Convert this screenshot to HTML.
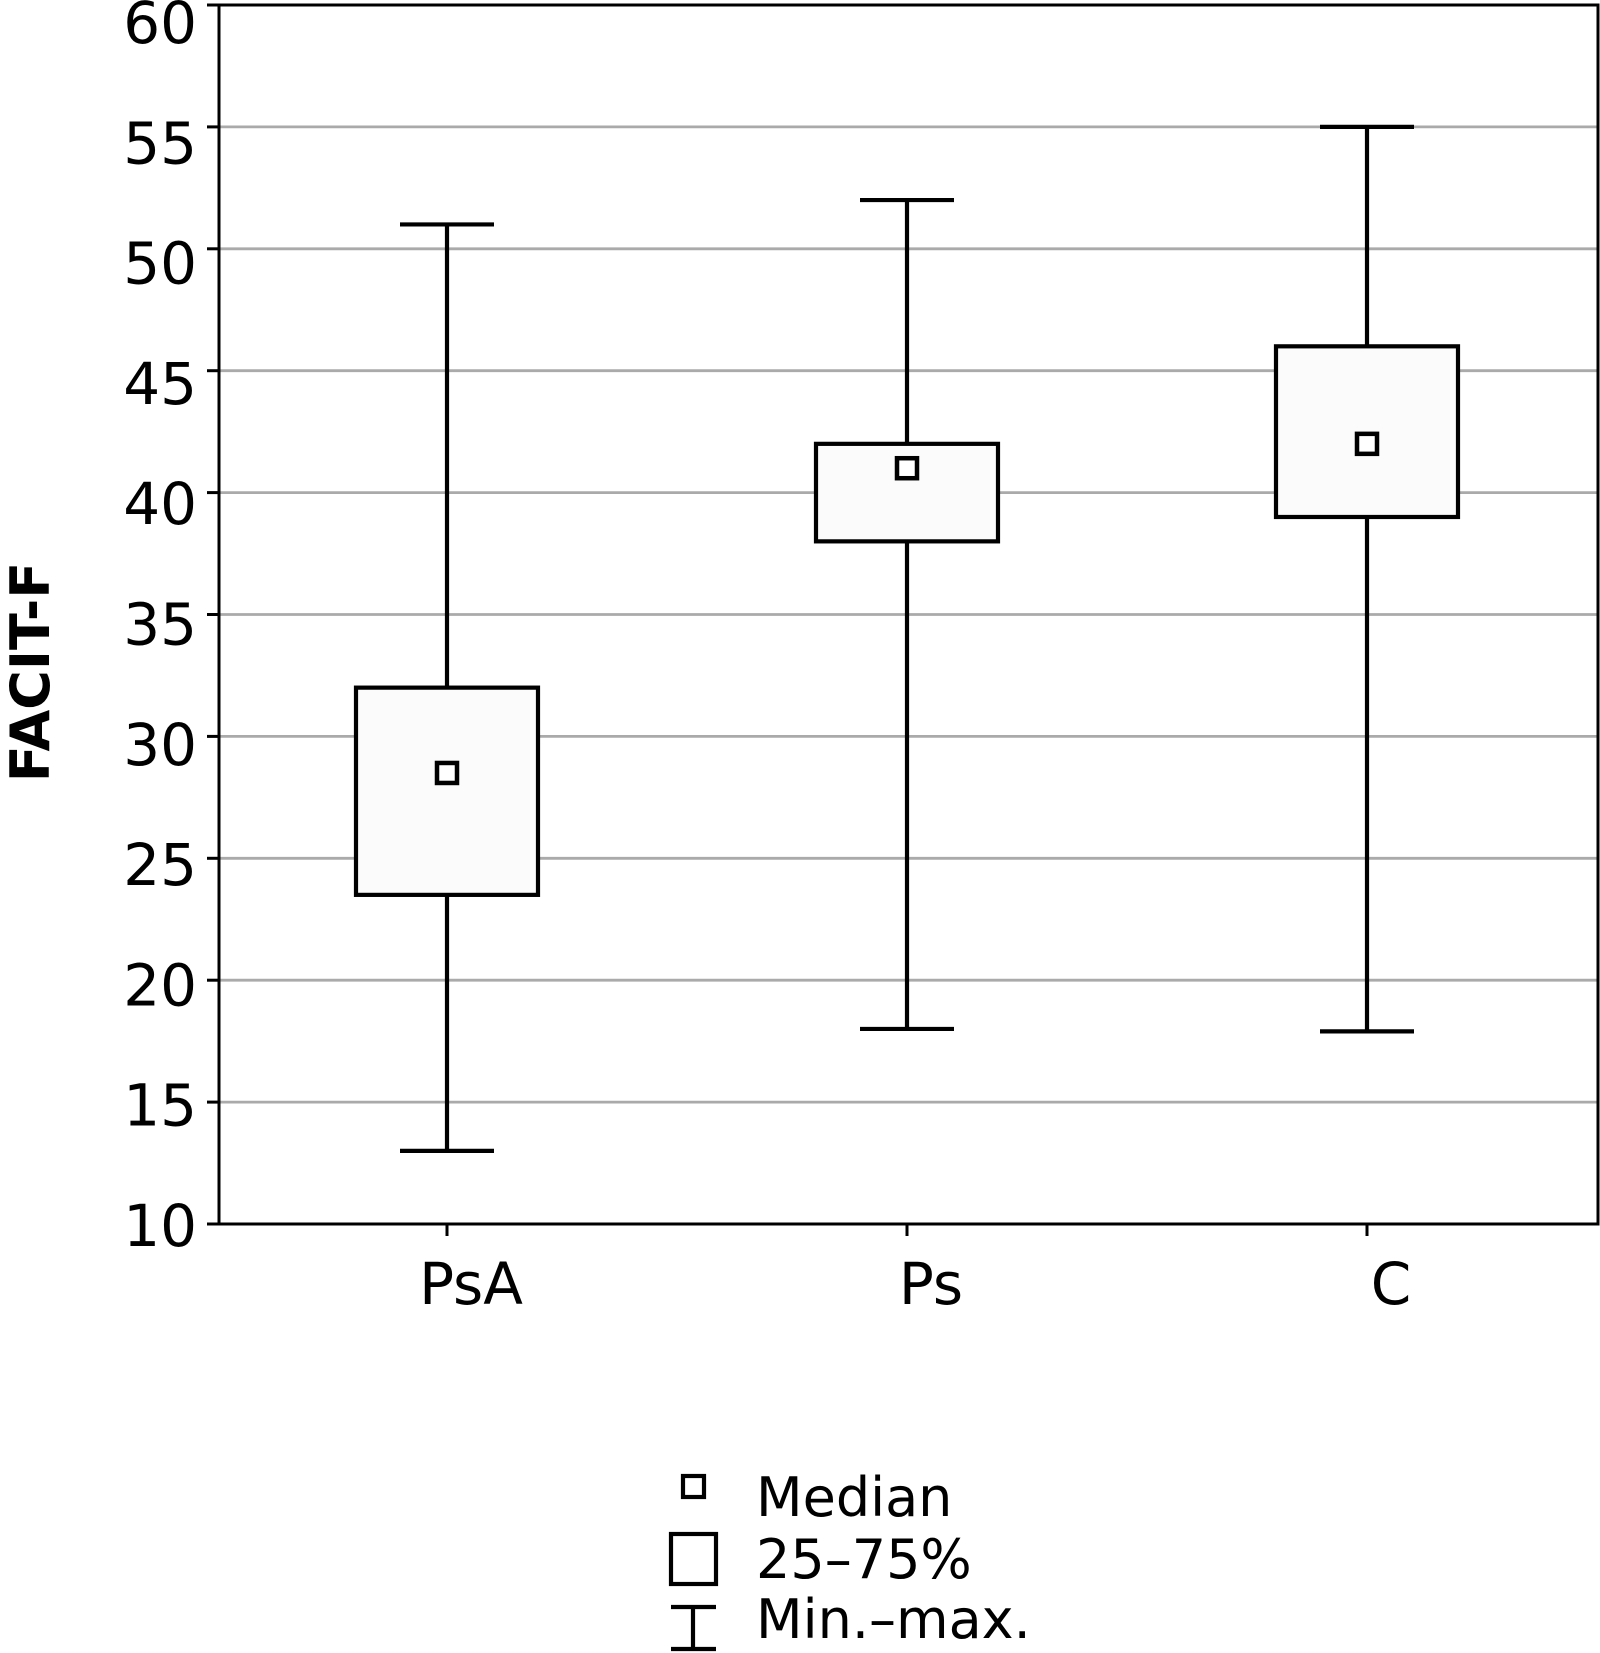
<!DOCTYPE html>
<html><head><meta charset="utf-8"><style>
html,body{margin:0;padding:0;background:#fff;}
svg{display:block;font-family:"DejaVu Sans","Liberation Sans",sans-serif;}
</style></head><body>
<svg id="chart" width="1600" height="1653" viewBox="0 0 1600 1653" xmlns="http://www.w3.org/2000/svg"></svg>
<script>
const categories = ["PsA", "Ps", "C"];
const mins = [13, 18, 17.9];
const q1s = [23.5, 38, 39];
const medians = [28.5, 41, 42];
const q3s = [32, 42, 46];
const maxs = [51, 52, 55];
const yTicks = [10, 15, 20, 25, 30, 35, 40, 45, 50, 55, 60];

const NS = "http://www.w3.org/2000/svg";
const svg = document.getElementById("chart");
const L = 219, R = 1598, T = 5, B = 1224;
const yMin = 10, yMax = 60;
function y(v){ return B - (v - yMin) / (yMax - yMin) * (B - T); }
const xPos = [447, 907, 1367];
function x(i){ return xPos[0] + i * (xPos[1] - xPos[0]); }
function el(tag, attrs, parent){
  const e = document.createElementNS(NS, tag);
  for (const k in attrs) e.setAttribute(k, attrs[k]);
  (parent || svg).appendChild(e);
  return e;
}
const SW = 4.2;

yTicks.forEach(v => {
  if (v === yMin || v === yMax) return;
  const g = el("line", {x1: L, x2: R, y1: y(v), y2: y(v), stroke: "#aaaaaa", "stroke-width": 2.8});
  
  
});
const fr = el("rect", {x: L, y: T, width: R - L, height: B - T, fill: "none", stroke: "#000", "stroke-width": 3});



yTicks.forEach(v => {
  const t = el("line", {x1: L - 12, x2: L, y1: y(v), y2: y(v), stroke: "#000", "stroke-width": 3});
  
  
  const off = 38 - (60 - v) * 0.32;
  const tx = el("text", {x: 197, y: y(v) + off, "text-anchor": "end", "font-size": 58, fill: "#000"});
  tx.textContent = v;
  
  
});

categories.forEach((c, i) => {
  const cx = x(i);
  const tk = el("line", {x1: cx, x2: cx, y1: B, y2: B + 12, stroke: "#000", "stroke-width": 3});
  
  
  const lb = el("text", {x: cx + 24, y: 1304, "text-anchor": "middle", "font-size": 58, fill: "#000"});
  lb.textContent = c;
  
  

  const g = el("g", {});
  
  
  el("line", {x1: cx, x2: cx, y1: y(maxs[i]), y2: y(q3s[i]), stroke: "#000", "stroke-width": SW}, g);
  el("line", {x1: cx, x2: cx, y1: y(q1s[i]), y2: y(mins[i]), stroke: "#000", "stroke-width": SW}, g);
  el("line", {x1: cx - 47, x2: cx + 47, y1: y(maxs[i]), y2: y(maxs[i]), stroke: "#000", "stroke-width": SW}, g);
  el("line", {x1: cx - 47, x2: cx + 47, y1: y(mins[i]), y2: y(mins[i]), stroke: "#000", "stroke-width": SW}, g);
  el("rect", {x: cx - 91, y: y(q3s[i]), width: 182, height: y(q1s[i]) - y(q3s[i]), fill: "#fbfbfb", stroke: "#000", "stroke-width": SW}, g);
  el("rect", {x: cx - 10, y: y(medians[i]) - 10, width: 20, height: 20, fill: "#fff", stroke: "#000", "stroke-width": 4.5}, g);
});

const at = el("text", {x: 0, y: 0, transform: "translate(49,672) rotate(-90)", "text-anchor": "middle", "font-size": 54, "font-weight": "bold", fill: "#000"});
at.textContent = "FACIT-F";



const lg = el("g", {});


el("rect", {x: 683, y: 1476, width: 21, height: 21, fill: "#fff", stroke: "#000", "stroke-width": SW}, lg);
el("rect", {x: 671, y: 1534, width: 45, height: 50, fill: "#fff", stroke: "#000", "stroke-width": SW}, lg);
el("line", {x1: 671, x2: 716, y1: 1607, y2: 1607, stroke: "#000", "stroke-width": SW}, lg);
el("line", {x1: 671, x2: 716, y1: 1649, y2: 1649, stroke: "#000", "stroke-width": SW}, lg);
el("line", {x1: 693, x2: 693, y1: 1607, y2: 1649, stroke: "#000", "stroke-width": SW}, lg);
[["Median", 1516, 'legend-entry-median'], ["25–75%", 1578, 'legend-entry-iqr'], ["Min.–max.", 1638, 'legend-entry-minmax']].forEach(r => {
  const t = el("text", {x: 756, y: r[1], "font-size": 54, fill: "#000"}, lg);
  t.textContent = r[0];
  
  
});
</script>
</body></html>
